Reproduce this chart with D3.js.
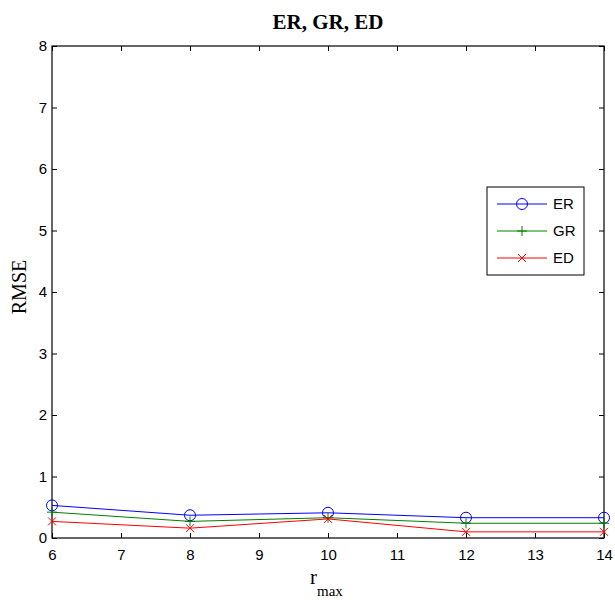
<!DOCTYPE html>
<html>
<head>
<meta charset="utf-8">
<script src="https://cdn.jsdelivr.net/npm/d3@7"></script>
<style>
  body { margin: 0; background: #fff; }
  svg { display: block; }
  .tick text { font-family: "Liberation Sans", Arial, sans-serif; font-size: 15px; fill: #000; }
</style>
</head>
<body>
<svg id="chart"></svg>
<script>
var width = 615;
var height = 600;
var padding = { top: 46, right: 11, bottom: 62, left: 52 };

var rmax = [6, 8, 10, 12, 14];
var erValues = [0.53, 0.37, 0.41, 0.33, 0.33];
var grValues = [0.42, 0.27, 0.33, 0.24, 0.24];
var edValues = [0.27, 0.16, 0.31, 0.10, 0.10];
var xTicks = [6, 7, 8, 9, 10, 11, 12, 13, 14];
var yTicks = [0, 1, 2, 3, 4, 5, 6, 7, 8];

var series = [
  { name: 'ER', values: erValues, color: '#0000ff', marker: 'circle' },
  { name: 'GR', values: grValues, color: '#008000', marker: 'plus' },
  { name: 'ED', values: edValues, color: '#ff0000', marker: 'cross' }
];

var svg = d3.select('#chart')
    .attr('width', width)
    .attr('height', height);

var xScale = d3.scaleLinear()
    .domain([6, 14])
    .range([padding.left, width - padding.right]);
var yScale = d3.scaleLinear()
    .domain([0, 8])
    .range([height - padding.bottom, padding.top]);

var x0 = padding.left, x1 = width - padding.right;
var y0 = height - padding.bottom, y1 = padding.top;

// axes with inward ticks on all four sides
svg.append('g')
    .attr('transform', 'translate(0,' + y0 + ')')
    .call(d3.axisBottom(xScale).tickValues(xTicks).tickSize(-5).tickPadding(11).tickFormat(d3.format('d')))
    .call(function(g) { g.select('.domain').remove(); });
svg.append('g')
    .attr('transform', 'translate(0,' + y1 + ')')
    .call(d3.axisTop(xScale).tickValues(xTicks).tickSize(-5).tickFormat(''))
    .call(function(g) { g.select('.domain').remove(); });
svg.append('g')
    .attr('transform', 'translate(' + x0 + ',0)')
    .call(d3.axisLeft(yScale).tickValues(yTicks).tickSize(-5).tickPadding(5).tickFormat(d3.format('d')))
    .call(function(g) { g.select('.domain').remove(); });
svg.append('g')
    .attr('transform', 'translate(' + x1 + ',0)')
    .call(d3.axisRight(yScale).tickValues(yTicks).tickSize(-5).tickFormat(''))
    .call(function(g) { g.select('.domain').remove(); });

svg.selectAll('.tick line').attr('stroke', '#000');

svg.append('rect')
    .attr('x', x0)
    .attr('y', y1)
    .attr('width', x1 - x0)
    .attr('height', y0 - y1)
    .attr('fill', 'none')
    .attr('stroke', '#000')
    .attr('stroke-width', 1.2);

var line = d3.line()
    .x(function(d) { return xScale(d.x); })
    .y(function(d) { return yScale(d.y); });

function drawMarker(g, type, color) {
  if (type === 'circle') {
    g.append('circle').attr('r', 5.5).attr('fill', 'none').attr('stroke', color);
  } else if (type === 'plus') {
    g.append('path').attr('d', 'M-5,0H5M0,-5V5').attr('stroke', color);
  } else {
    g.append('path').attr('d', 'M-4,-4L4,4M-4,4L4,-4').attr('stroke', color);
  }
}

series.forEach(function(s) {
  var pts = rmax.map(function(r, i) { return { x: r, y: s.values[i] }; });
  svg.append('path')
      .datum(pts)
      .attr('d', line)
      .attr('fill', 'none')
      .attr('stroke', s.color)
      .attr('stroke-width', 1);
  pts.forEach(function(p) {
    var g = svg.append('g')
        .attr('transform', 'translate(' + xScale(p.x) + ',' + yScale(p.y) + ')');
    drawMarker(g, s.marker, s.color);
  });
});

// legend
var legend = svg.append('g').attr('transform', 'translate(487,187)');
legend.append('rect')
    .attr('width', 97)
    .attr('height', 88)
    .attr('fill', '#fff')
    .attr('stroke', '#000');
series.forEach(function(s, i) {
  var ly = 17 + i * 27;
  legend.append('line')
      .attr('x1', 10).attr('x2', 60)
      .attr('y1', ly).attr('y2', ly)
      .attr('stroke', s.color);
  var g = legend.append('g').attr('transform', 'translate(35,' + ly + ')');
  drawMarker(g, s.marker, s.color);
  legend.append('text')
      .attr('x', 66)
      .attr('y', ly)
      .attr('dy', '0.36em')
      .style('font-family', '"Liberation Sans", Arial, sans-serif')
      .style('font-size', '15px')
      .text(s.name);
});

// titles
svg.append('text')
    .attr('x', (x0 + x1) / 2)
    .attr('y', 29)
    .style('text-anchor', 'middle')
    .style('font-family', '"Liberation Serif", "Times New Roman", serif')
    .style('font-weight', 'bold')
    .style('font-size', '21px')
    .text('ER, GR, ED');

svg.append('text')
    .attr('transform', 'rotate(-90)')
    .attr('x', -287)
    .attr('y', 26)
    .style('text-anchor', 'middle')
    .style('font-family', '"Liberation Serif", "Times New Roman", serif')
    .style('font-size', '20px')
    .text('RMSE');

var xl = svg.append('text')
    .attr('x', 310)
    .attr('y', 584)
    .style('font-family', '"Liberation Serif", "Times New Roman", serif')
    .style('font-size', '21px');
xl.append('tspan').text('r');
xl.append('tspan').attr('dy', 12).style('font-size', '15px').text('max');
</script>
</body>
</html>
